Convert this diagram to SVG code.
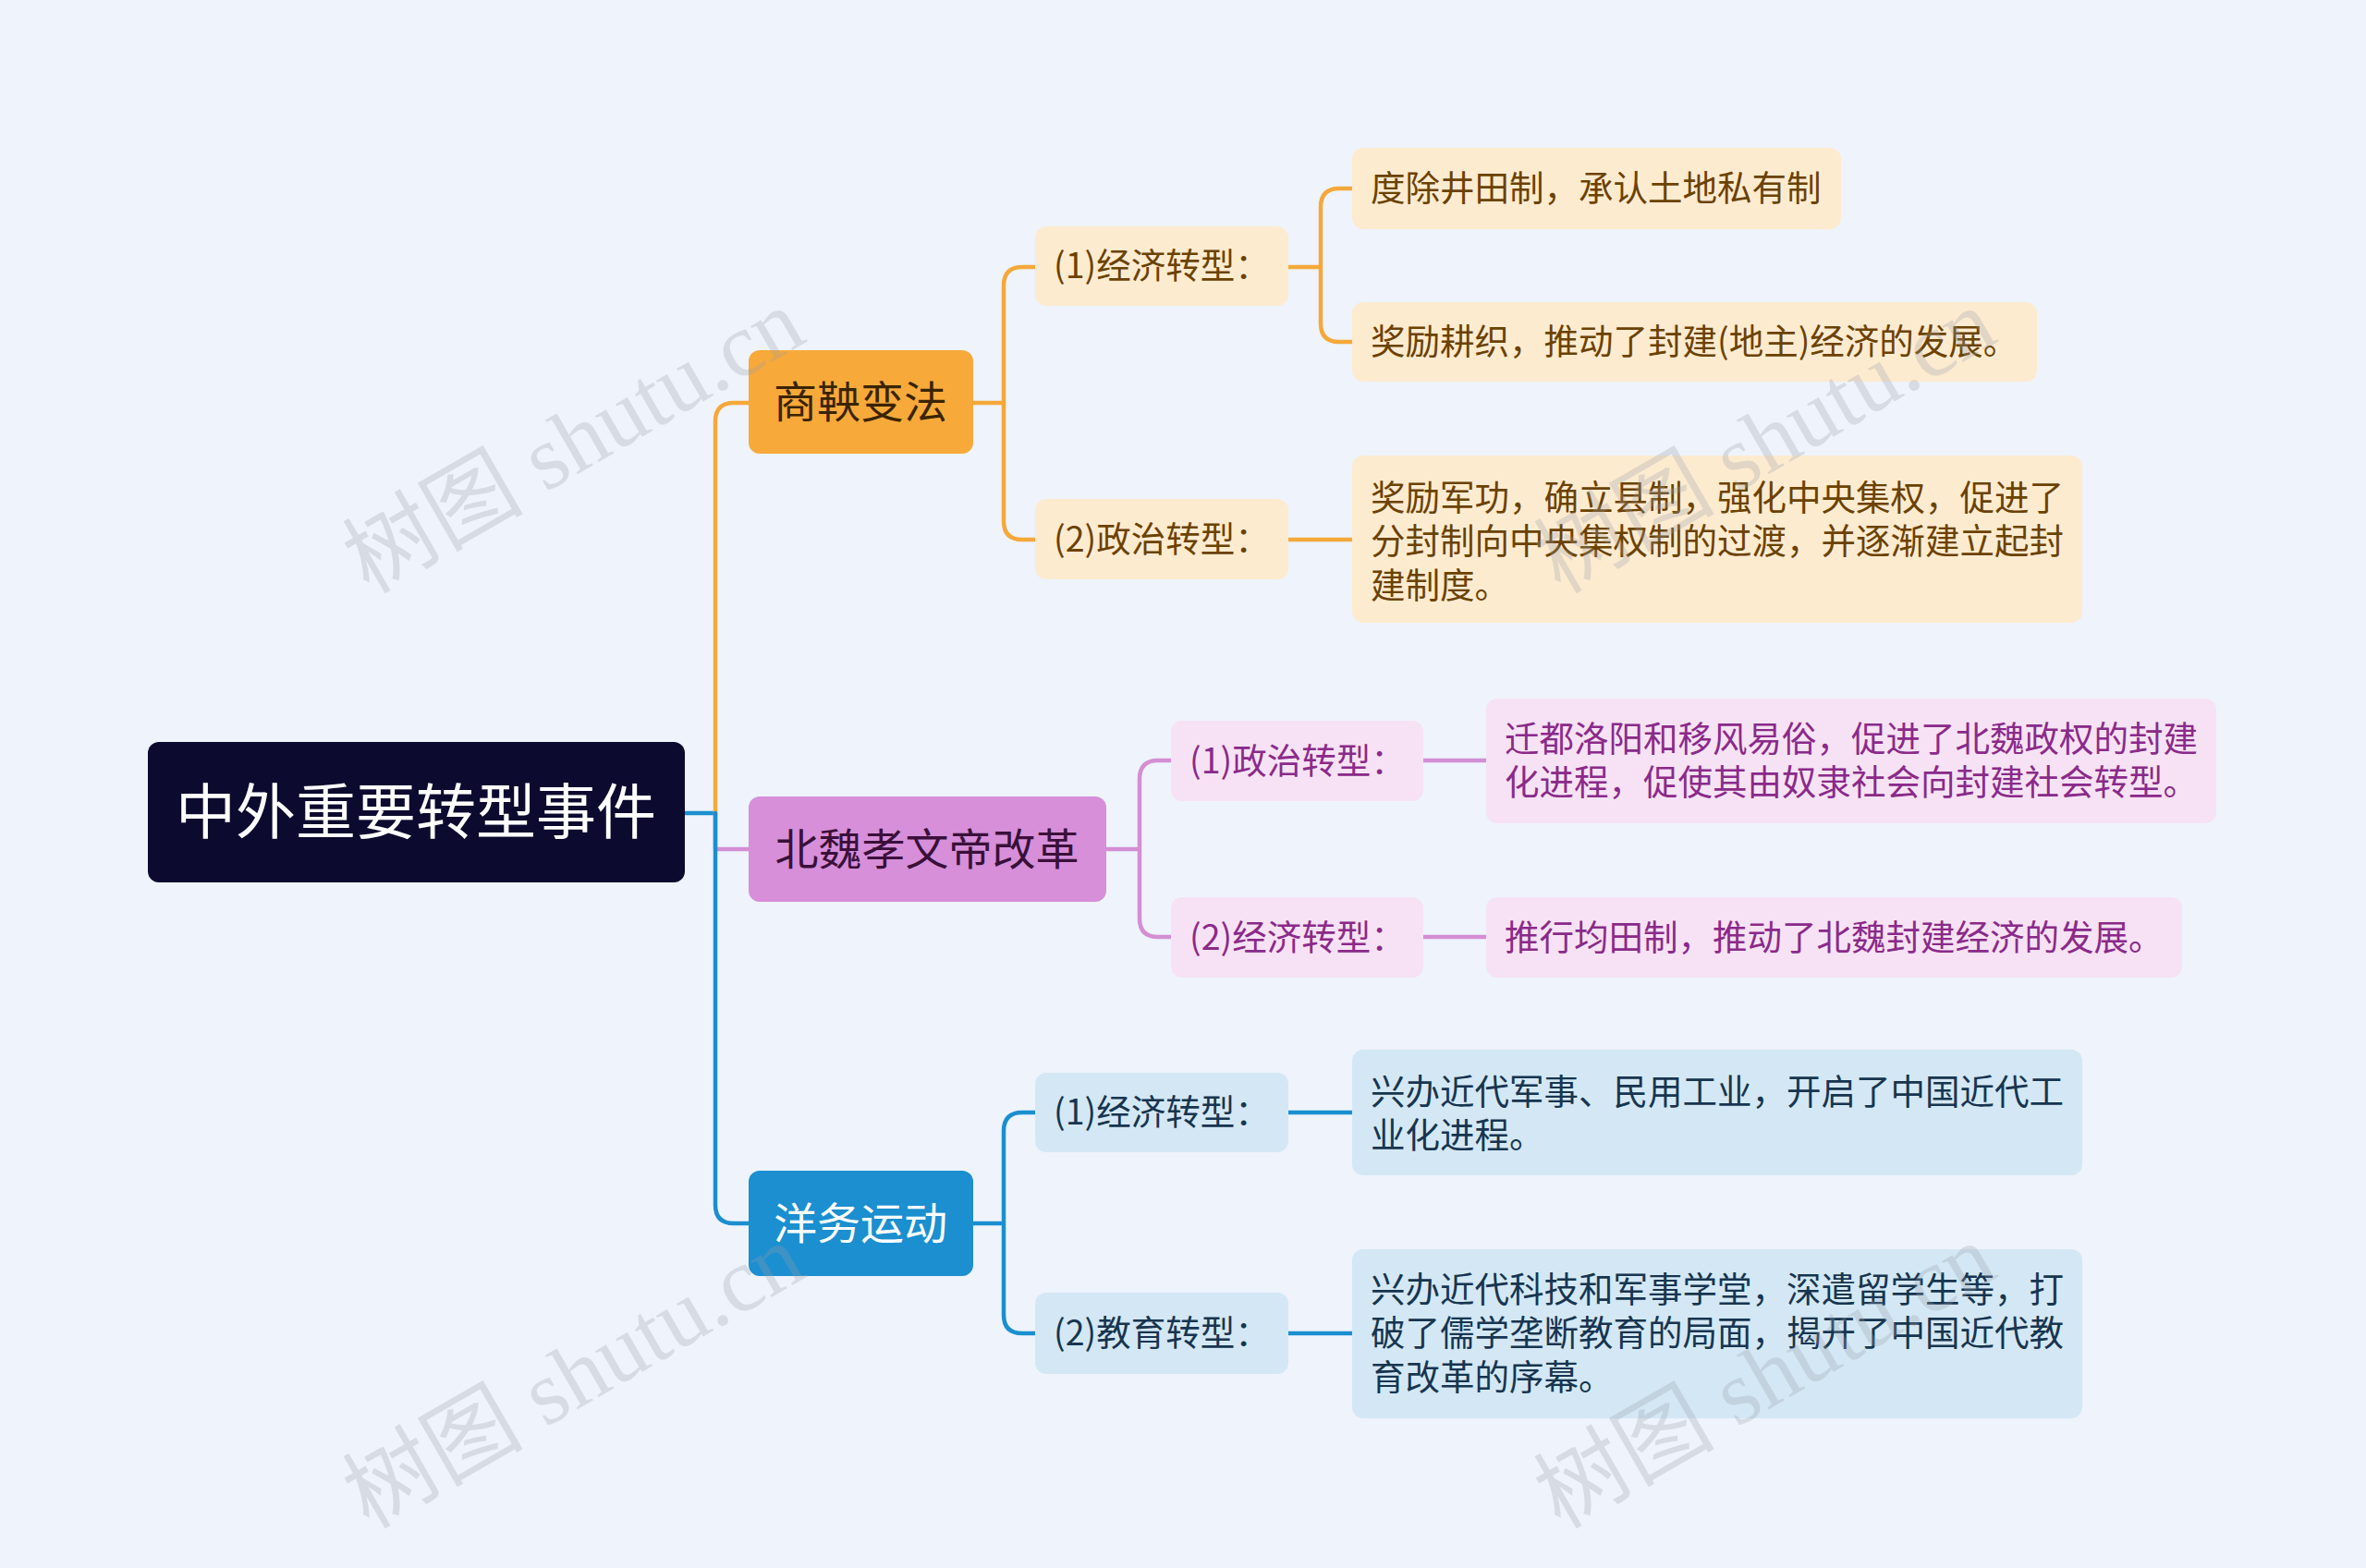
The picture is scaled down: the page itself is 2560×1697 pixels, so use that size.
<svg xmlns="http://www.w3.org/2000/svg" width="2560" height="1697" viewBox="0 0 2560 1697">
<style>
text{font-family:"Noto Sans CJK SC","Noto Sans",sans-serif}
.c{fill:none;stroke-width:4.5;stroke-linecap:round;stroke-linejoin:round}
.o{stroke:#F5A83A}.p{stroke:#D48ED4}.b{stroke:#1A8FCF}
.so{fill:#FDEBD0}.sp{fill:#F6E2F4}.sb{fill:#D3E8F4}
.to{fill:#6B4200;font-size:37.5px}.tp{fill:#8A2A8A;font-size:37.5px}.tb{fill:#173550;font-size:37.5px}
.wm{fill:#9aa0aa;opacity:0.28;font-size:98px;font-family:"Liberation Serif","Noto Sans CJK SC",serif}
</style>
<rect width="2560" height="1697" fill="#EEF3FC"/>
<g id="connectors">
<path class="c b" d="M741 880 H774"/>
<path class="c o" d="M774 880 V456 Q774 436 794 436 H810"/>
<path class="c p" d="M774 880 V919 H810"/>
<path class="c b" d="M774 880 V1304 Q774 1324 794 1324 H810"/>
<path class="c o" d="M1053 436 H1086 M1120 289 H1106 Q1086 289 1086 309 V564 Q1086 584 1106 584 H1120"/>
<path class="c o" d="M1394 289 H1429 M1463 204 H1449 Q1429 204 1429 224 V350 Q1429 370 1449 370 H1463"/>
<path class="c o" d="M1394 584 H1463"/>
<path class="c p" d="M1197 919 H1233 M1267 823 H1253 Q1233 823 1233 843 V994 Q1233 1014 1253 1014 H1267"/>
<path class="c p" d="M1540 823 H1608 M1540 1014 H1608"/>
<path class="c b" d="M1053 1324 H1086 M1120 1204 H1106 Q1086 1204 1086 1224 V1423 Q1086 1443 1106 1443 H1120"/>
<path class="c b" d="M1394 1204 H1463 M1394 1443 H1463"/>
</g>
<g id="root"><rect x="160" y="803" width="581" height="152" rx="12" fill="#0C0A2E"/><text x="450" y="902" text-anchor="middle" fill="#fff" font-size="65">中外重要转型事件</text></g>
<g id="b1"><rect x="810" y="379" width="243" height="112" rx="12" fill="#F7A93A"/><text x="931" y="452" text-anchor="middle" fill="#3a2400" font-size="47">商鞅变法</text></g>
<g id="b2"><rect x="810" y="862" width="387" height="114" rx="12" fill="#D68FD8"/><text x="1003" y="936" text-anchor="middle" fill="#3a103a" font-size="47">北魏孝文帝改革</text></g>
<g id="b3"><rect x="810" y="1267" width="243" height="114" rx="12" fill="#1B8FCF"/><text x="931" y="1341" text-anchor="middle" fill="#fff" font-size="47">洋务运动</text></g>
<g id="s11"><rect class="so" x="1120" y="245" width="274" height="86" rx="12"/><text class="to" x="1140" y="301">(1)经济转型：</text></g>
<g id="s12"><rect class="so" x="1120" y="540" width="274" height="87" rx="12"/><text class="to" x="1140" y="597">(2)政治转型：</text></g>
<g id="l1"><rect class="so" x="1463" y="160" width="529" height="88" rx="12"/><text class="to" x="1483" y="217">度除井田制，承认土地私有制</text></g>
<g id="l2"><rect class="so" x="1463" y="327" width="741" height="86" rx="12"/><text class="to" x="1483" y="383">奖励耕织，推动了封建(地主)经济的发展。</text></g>
<g id="l3"><rect class="so" x="1463" y="493" width="790" height="181" rx="12"/><text class="to" x="1483" y="552">奖励军功，确立县制，强化中央集权，促进了</text><text class="to" x="1483" y="599">分封制向中央集权制的过渡，并逐渐建立起封</text><text class="to" x="1483" y="647">建制度。</text></g>
<g id="s21"><rect class="sp" x="1267" y="780" width="273" height="87" rx="12"/><text class="tp" x="1287" y="837">(1)政治转型：</text></g>
<g id="s22"><rect class="sp" x="1267" y="971" width="273" height="87" rx="12"/><text class="tp" x="1287" y="1028">(2)经济转型：</text></g>
<g id="l4"><rect class="sp" x="1608" y="756" width="790" height="135" rx="12"/><text class="tp" x="1628" y="813">迁都洛阳和移风易俗，促进了北魏政权的封建</text><text class="tp" x="1628" y="860">化进程，促使其由奴隶社会向封建社会转型。</text></g>
<g id="l5"><rect class="sp" x="1608" y="971" width="753" height="87" rx="12"/><text class="tp" x="1628" y="1028">推行均田制，推动了北魏封建经济的发展。</text></g>
<g id="s31"><rect class="sb" x="1120" y="1161" width="274" height="86" rx="12"/><text class="tb" x="1140" y="1217">(1)经济转型：</text></g>
<g id="s32"><rect class="sb" x="1120" y="1399" width="274" height="88" rx="12"/><text class="tb" x="1140" y="1456">(2)教育转型：</text></g>
<g id="l6"><rect class="sb" x="1463" y="1136" width="790" height="136" rx="12"/><text class="tb" x="1483" y="1195">兴办近代军事、民用工业，开启了中国近代工</text><text class="tb" x="1483" y="1242">业化进程。</text></g>
<g id="l7"><rect class="sb" x="1463" y="1352" width="790" height="183" rx="12"/><text class="tb" x="1483" y="1409">兴办近代科技和军事学堂，深遣留学生等，打</text><text class="tb" x="1483" y="1456">破了儒学垄断教育的局面，揭开了中国近代教</text><text class="tb" x="1483" y="1504">育改革的序幕。</text></g>
<g id="watermarks">
<text class="wm" transform="translate(637 506) rotate(-30)" text-anchor="middle">树图 shutu.cn</text>
<text class="wm" transform="translate(1926 506) rotate(-30)" text-anchor="middle">树图 shutu.cn</text>
<text class="wm" transform="translate(637 1518) rotate(-30)" text-anchor="middle">树图 shutu.cn</text>
<text class="wm" transform="translate(1926 1518) rotate(-30)" text-anchor="middle">树图 shutu.cn</text>
</g>
</svg>
